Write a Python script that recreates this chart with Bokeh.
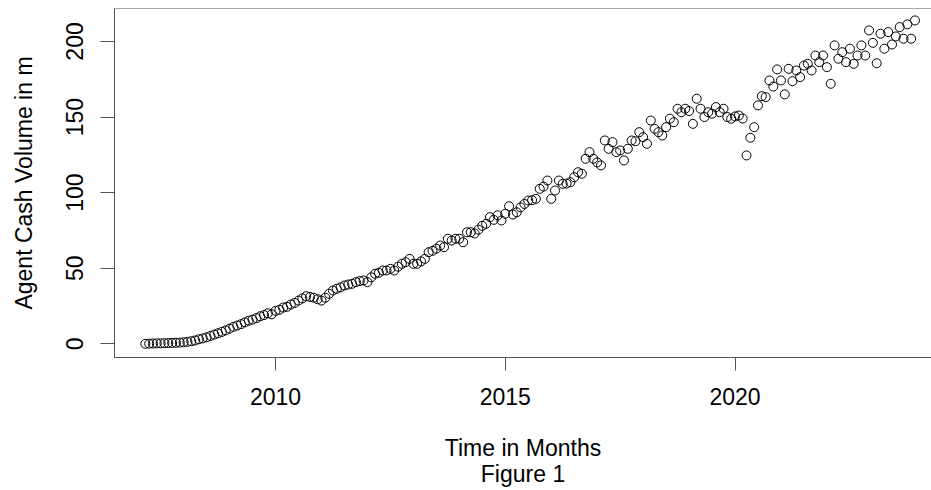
import numpy as np
from bokeh.plotting import figure
from bokeh.models import FixedTicker, Range1d, Span, ColumnDataSource
from bokeh.embed import file_html
from bokeh.resources import INLINE

# Monthly agent cash volume (m), March 2007 - December 2023
start_year, start_month = 2007, 3
v2007 = [0.0, 0.1, 0.2, 0.3, 0.3, 0.4, 0.5, 0.6, 0.7, 0.8]
v2008 = [1.0, 1.3, 1.7, 2.2, 3.0, 3.6, 4.3, 5.2, 6.1, 7.0, 7.9, 8.9]
v2009 = [10.0, 11.2, 12.1, 13.0, 14.2, 15.3, 16.0, 17.0, 18.2, 19.0, 20.2, 19.5]
v2010 = [21.8, 22.5, 24.0, 24.5, 26.0, 27.0, 28.6, 30.0, 31.5, 31.0, 30.5, 29.5]
v2011 = [28.6, 30.5, 33.1, 35.3, 36.4, 37.4, 38.6, 39.2, 39.7, 40.8, 41.5, 41.9]
v2012 = [40.8, 44.0, 46.3, 47.0, 48.5, 48.5, 49.6, 48.5, 51.0, 52.9, 54.0, 56.2]
v2013 = [52.9, 52.9, 54.5, 56.2, 60.6, 61.5, 62.9, 65.0, 63.9, 69.5, 68.3, 69.5]
v2014 = [69.5, 67.2, 73.8, 73.8, 73.0, 75.5, 78.0, 79.4, 83.8, 82.0, 85.0, 81.6]
v2015 = [86.0, 91.0, 85.5, 87.0, 90.3, 92.5, 94.8, 95.0, 95.9, 102.5, 104.0, 108.0]
v2016 = [95.9, 101.4, 108.0, 105.8, 106.0, 106.9, 110.2, 113.5, 112.5, 122.4, 126.8, 122.4]
v2017 = [120.0, 118.0, 134.5, 129.0, 133.4, 126.8, 127.9, 121.3, 129.0, 134.5, 134.0, 140.0]
v2018 = [136.7, 132.3, 147.7, 142.2, 140.0, 137.8, 143.3, 148.9, 146.6, 155.5, 153.2, 155.5]
v2019 = [154.0, 145.5, 162.1, 155.5, 150.0, 153.2, 152.2, 156.6, 153.2, 155.5, 150.0, 148.9]
v2020 = [150.4, 151.0, 149.0, 124.6, 136.3, 143.3, 157.7, 163.8, 163.2, 174.2, 170.2, 181.5]
v2021 = [174.2, 165.0, 181.9, 173.7, 180.8, 176.4, 184.1, 185.2, 180.8, 190.7, 186.3, 190.7]
v2022 = [183.0, 172.0, 197.4, 188.6, 192.9, 186.3, 195.2, 185.2, 190.7, 197.4, 190.7, 207.3]
v2023 = [199.1, 185.6, 205.1, 195.2, 206.2, 198.0, 203.3, 209.5, 201.8, 211.3, 201.8, 213.9]

volume = (v2007 + v2008 + v2009 + v2010 + v2011 + v2012 + v2013 + v2014 + v2015
          + v2016 + v2017 + v2018 + v2019 + v2020 + v2021 + v2022 + v2023)
time = [start_year + (start_month - 1 + i) / 12 for i in range(len(volume))]

x_ticks = [2010, 2015, 2020]
y_ticks = [0, 50, 100, 150, 200]
x_start, x_end = 2006.496, 2024.276
y_start, y_end = -9.06, 221.8

FONT = "Liberation Sans"
FS = "23px"
BOX = "#555555"

p = figure(width=931, height=490, output_backend="svg", toolbar_location=None,
           x_range=Range1d(x_start, x_end), y_range=Range1d(y_start, y_end),
           min_border_left=114, min_border_right=0, min_border_top=8,
           min_border_bottom=133)
p.outline_line_color = None
p.grid.visible = False
p.background_fill_color = "white"
p.border_fill_color = "white"

src = ColumnDataSource(dict(t=time, v=volume))
p.scatter("t", "v", source=src, marker="circle", size=9, fill_color=None,
          line_color="black", line_width=1)

# top edge of the plot box
p.add_layout(Span(location=y_end, dimension="width", line_color=BOX, line_width=1))

xa = p.xaxis[0]
xa.ticker = FixedTicker(ticks=x_ticks)
xa.minor_tick_line_color = None
xa.major_tick_out = 13
xa.major_tick_in = 0
xa.major_tick_line_color = BOX
xa.axis_line_color = BOX
xa.major_label_standoff = 17
xa.major_label_text_font = FONT
xa.major_label_text_font_size = FS
xa.major_label_text_color = "black"
xa.axis_label = "Time in Months\nFigure 1"
xa.axis_label_text_font = FONT
xa.axis_label_text_font_size = FS
xa.axis_label_text_font_style = "normal"
xa.axis_label_text_color = "black"
xa.axis_label_text_line_height = 1.0
xa.axis_label_standoff = 27

ya = p.yaxis[0]
ya.ticker = FixedTicker(ticks=y_ticks)
ya.minor_tick_line_color = None
ya.major_tick_out = 14
ya.major_tick_in = 0
ya.major_tick_line_color = BOX
ya.axis_line_color = BOX
ya.major_label_orientation = "vertical"
ya.major_label_standoff = 17
ya.major_label_text_font = FONT
ya.major_label_text_font_size = FS
ya.major_label_text_color = "black"
ya.axis_label = "Agent Cash Volume in m"
ya.axis_label_text_font = FONT
ya.axis_label_text_font_size = FS
ya.axis_label_text_font_style = "normal"
ya.axis_label_text_color = "black"
ya.axis_label_standoff = 27

open("out.html", "w").write(file_html(p, INLINE))
